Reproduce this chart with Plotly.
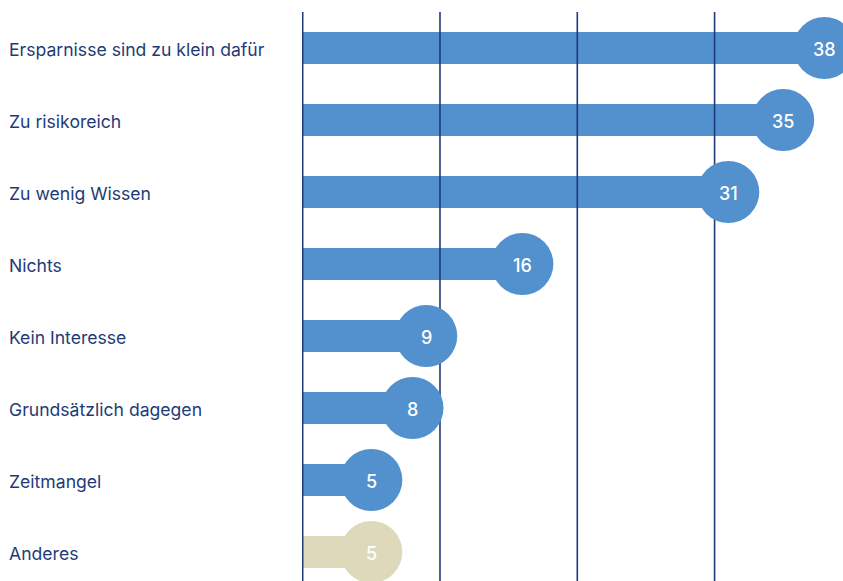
import plotly.graph_objects as go

# Reasons given (German survey answers) and their shares in percent
categories = [
    "Ersparnisse sind zu klein dafür",
    "Zu risikoreich",
    "Zu wenig Wissen",
    "Nichts",
    "Kein Interesse",
    "Grundsätzlich dagegen",
    "Zeitmangel",
    "Anderes",
]
values = [38, 35, 31, 16, 9, 8, 5, 5]
grid_ticks = [0, 10, 20, 30]

BLUE = "#5291CD"
BEIGE = "#DDD9BA"
NAVY = "#1E3B78"

colors = [BLUE] * (len(categories) - 1) + [BEIGE]
rows = list(range(len(categories)))

W, H = 843, 581
left, top = 302, 12
px_per_unit = 13.73
x_min = -0.05
x_max = x_min + (W - left) / px_per_unit
row_px = 72
y_span = (H - top) / row_px

fig = go.Figure()

# Bars
fig.add_trace(go.Bar(
    x=values, y=rows, orientation="h",
    marker=dict(color=colors, line=dict(width=0)),
    width=0.45, hoverinfo="skip", showlegend=False,
))

# Vertical gridlines drawn over the bars but beneath the end circles
gx, gy = [], []
for t in grid_ticks:
    gx += [t, t, None]
    gy += [-0.5, y_span, None]
fig.add_trace(go.Scatter(
    x=gx, y=gy, mode="lines",
    line=dict(color=NAVY, width=1.6),
    hoverinfo="skip", showlegend=False, cliponaxis=False,
))

# End circles
fig.add_trace(go.Scatter(
    x=values, y=rows, mode="markers",
    marker=dict(size=62, color=colors, line=dict(width=0)),
    hoverinfo="skip", showlegend=False, cliponaxis=True,
))

# Value labels inside the circles
for r, v in zip(rows, values):
    fig.add_annotation(
        x=v, y=r, xref="x", yref="y", xanchor="center", yanchor="middle",
        yshift=-1.5, text=str(v), showarrow=False,
        font=dict(family="Inter", size=18, color="white", weight=500),
    )

# Category labels, left aligned
for r, c in zip(rows, categories):
    fig.add_annotation(
        x=-(left - 7) / (W - left), xref="paper", xanchor="left",
        y=r, yref="y", yanchor="middle", yshift=-1.5,
        text=c, showarrow=False,
        font=dict(family="Inter", size=17.6, color=NAVY),
    )

fig.update_layout(
    width=W, height=H,
    margin=dict(l=left, r=0, t=top, b=0),
    paper_bgcolor="white", plot_bgcolor="white",
    xaxis=dict(range=[x_min, x_max], showgrid=False, zeroline=False,
               showticklabels=False, fixedrange=True),
    yaxis=dict(range=[y_span - 0.5, -0.5], showgrid=False, zeroline=False,
               showticklabels=False, fixedrange=True),
    bargap=0,
)

fig.write_html("out.html")
